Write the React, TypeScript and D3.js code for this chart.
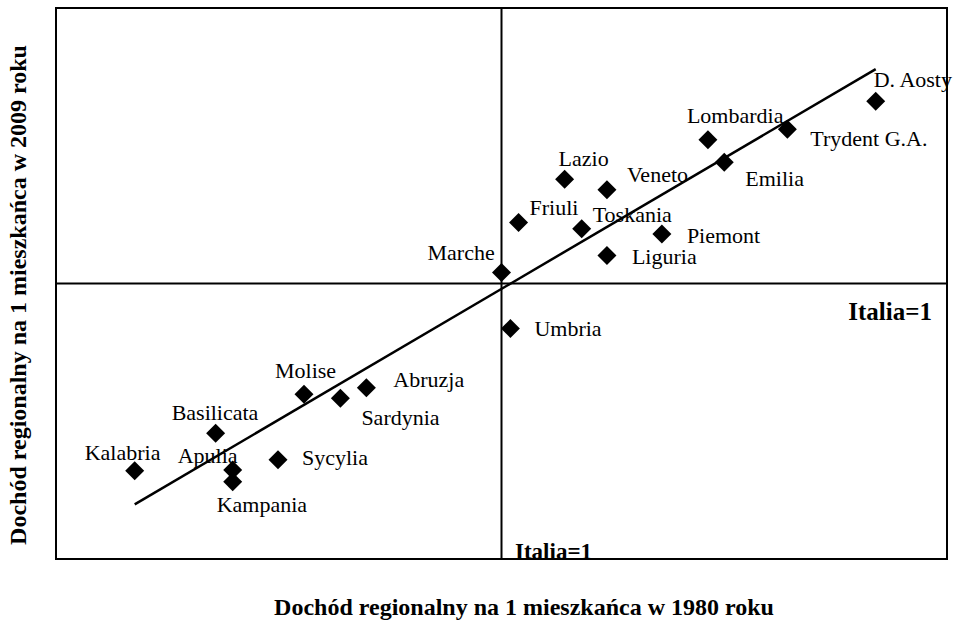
import React from "react";
import * as d3 from "d3";

const regions = ["D. Aosty", "Trydent G.A.", "Lombardia", "Emilia", "Lazio", "Veneto", "Friuli", "Toskania", "Piemont", "Liguria", "Marche", "Umbria", "Molise", "Sardynia", "Abruzja", "Basilicata", "Kalabria", "Apulia", "Kampania", "Sycylia"];
const income1980 = [1.504, 1.385, 1.278, 1.300, 1.085, 1.142, 1.023, 1.108, 1.216, 1.142, 1.000, 1.012, 0.734, 0.783, 0.818, 0.615, 0.506, 0.638, 0.638, 0.699];
const income2009 = [1.397, 1.336, 1.313, 1.264, 1.227, 1.204, 1.133, 1.119, 1.108, 1.061, 1.024, 0.902, 0.759, 0.750, 0.773, 0.674, 0.592, 0.594, 0.568, 0.616];
const trendX = [0.506, 1.504];
const trendY = [0.519, 1.467];
const xDomain = [0.4, 1.6];
const yDomain = [0.4, 1.6];
const referenceValue = 1;

// label offsets (layout) relative to marker centre: [dx, dy] for text start / baseline
const labelOffsets: Record<string, [number, number]> = {
  "D. Aosty": [-2, -14],
  "Trydent G.A.": [23, 17],
  "Lombardia": [-21, -17],
  "Emilia": [21, 24],
  "Lazio": [-6, -13],
  "Veneto": [20, -8],
  "Friuli": [11, -7],
  "Toskania": [11, -7],
  "Piemont": [25, 9],
  "Liguria": [25, 9],
  "Marche": [-74, -12],
  "Umbria": [24, 8],
  "Molise": [-29, -16],
  "Sardynia": [21, 27],
  "Abruzja": [27, -1],
  "Basilicata": [-44, -13],
  "Kalabria": [-50, -11],
  "Apulia": [-55, -7],
  "Kampania": [-16, 30],
  "Sycylia": [24, 5],
};

const W = 958;
const H = 620;
const left = 56, right = 947, top = 8, bottom = 559;
const serif = "'Liberation Serif', 'Times New Roman', serif";

export default function App() {
  const x = d3.scaleLinear().domain(xDomain).range([left, right]);
  const y = d3.scaleLinear().domain(yDomain).range([bottom, top]);
  const diamond = d3.symbol(d3.symbolSquare, 180)();
  const line = d3.line<number>().x((d) => x(trendX[d])).y((d) => y(trendY[d]));
  const x1 = x(referenceValue);
  const y1 = y(referenceValue);

  return (
    <svg width={W} height={H} style={{ position: "absolute", left: 0, top: 0, background: "#fff" }}>
      <rect x={0} y={0} width={W} height={H} fill="#fff" />
      <rect x={left} y={top} width={right - left} height={bottom - top} fill="none" stroke="#000" strokeWidth={2} />
      <line x1={x1} x2={x1} y1={top} y2={bottom} stroke="#000" strokeWidth={2} />
      <line x1={left} x2={right} y1={y1} y2={y1} stroke="#000" strokeWidth={2} />
      <path d={line([0, 1]) || ""} fill="none" stroke="#000" strokeWidth={2.5} />
      {regions.map((r, i) => (
        <path key={"m" + r} d={diamond || ""} transform={`translate(${x(income1980[i])},${y(income2009[i])}) rotate(45)`} fill="#000" />
      ))}
      {regions.map((r, i) => {
        const [dx, dy] = labelOffsets[r];
        return (
          <text key={"t" + r} x={x(income1980[i]) + dx} y={y(income2009[i]) + dy} fontFamily={serif} fontSize={22} fill="#000">
            {r}
          </text>
        );
      })}
      <text x={932} y={320} textAnchor="end" fontFamily={serif} fontWeight="bold" fontSize={25} fill="#000">Italia=1</text>
      <text x={515} y={559} fontFamily={serif} fontWeight="bold" fontSize={23} fill="#000">Italia=1</text>
      <text x={524} y={615} textAnchor="middle" fontFamily={serif} fontWeight="bold" fontSize={24} fill="#000">
        Dochód regionalny na 1 mieszkańca w 1980 roku
      </text>
      <text transform={`translate(26,295) rotate(-90)`} textAnchor="middle" fontFamily={serif} fontWeight="bold" fontSize={24} fill="#000">
        Dochód regionalny na 1 mieszkańca w 2009 roku
      </text>
    </svg>
  );
}
